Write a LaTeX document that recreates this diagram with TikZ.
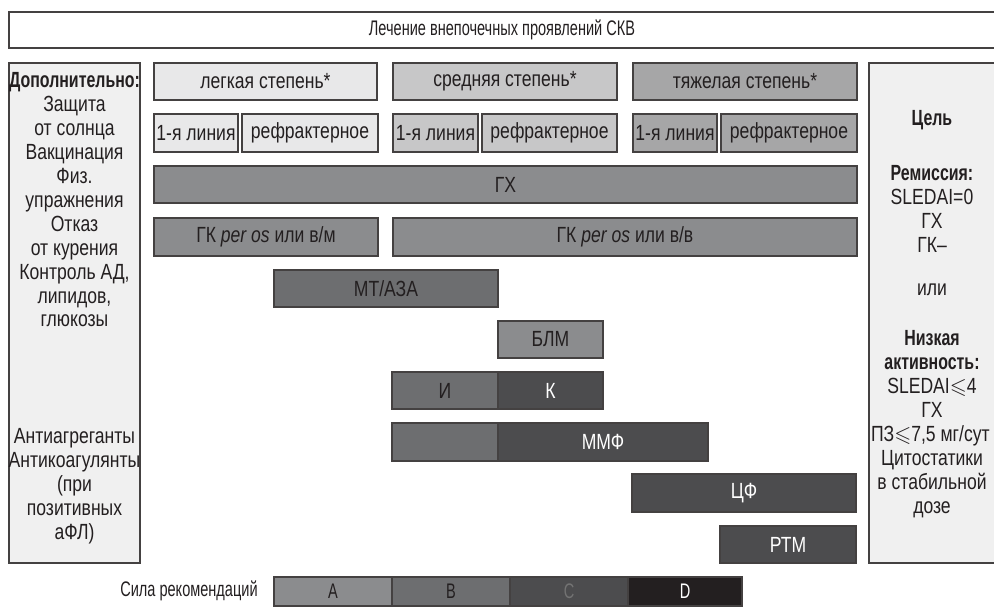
\documentclass[tikz,border=0pt]{standalone}
\usepackage{fontspec}
\setmainfont[FakeStretch=0.8, BoldFeatures={FakeStretch=0.725}]{Liberation Sans}
\newfontfamily\narrowfont[FakeStretch=0.69]{Liberation Sans}
\usepackage{amssymb}
\usetikzlibrary{fit, positioning}

\definecolor{sideC}{HTML}{F0F0F0}
\definecolor{sevL}{HTML}{E8E8E9}
\definecolor{sevM}{HTML}{C7C7C8}
\definecolor{sevH}{HTML}{A6A6A7}
\definecolor{lvA}{HTML}{8B8C8E}
\definecolor{lvB}{HTML}{6D6E70}
\definecolor{lvC}{HTML}{4C4C4E}
\definecolor{lvD}{HTML}{231F20}
\definecolor{ink}{HTML}{231F20}

\begin{document}
\begin{tikzpicture}[x=0.02cm, y=-0.02cm,
    every node/.style={font=\fontsize{12.5}{13.6}\selectfont, text=ink},
    small/.style={font=\narrowfont\fontsize{12}{13}\selectfont},
    bx/.style={draw=ink!85, line width=0.6pt, inner sep=0pt},
    txt/.style={align=center, inner sep=0pt}]
    \useasboundingbox (0,0) rectangle (994,610);

    % заголовок
    \node[bx, fit={(9,12) (995,48)}, label={[small]center:Лечение внепочечных проявлений СКВ}] (title) {};

    % боковые колонки
    \node[bx, fill=sideC, fit={(9,63) (140,563)}] (extra) {};
    \node[bx, fill=sideC, fit={(869,63) (995,563)}] (goal) {};
    \node[txt] (extratop) at (74.5,200) {\textbf{Дополнительно:}\\Защита\\от солнца\\Вакцинация\\Физ.\\упражнения\\Отказ\\от курения\\Контроль АД,\\липидов,\\глюкозы};
    \node[txt] (extrabot) at (74.5,486) {Антиагреганты\\Антикоагулянты\\(при\\позитивных\\аФЛ)};
    \node[txt] (goalhead) at (932,120) {\textbf{Цель}};
    \node[txt] (remis) at (932,209) {\textbf{Ремиссия:}\\SLEDAI=0\\ГХ\\ГК--};
    \node[txt] (ili) at (932,290) {или};
    \node[txt] (lowact) at (932,424) {\textbf{Низкая}\\\textbf{активность:}\\SLEDAI$\leqslant$4\\ГХ\\\makebox[2.44cm][l]{ПЗ$\leqslant$7,5 мг/сут}\\Цитостатики\\в стабильной\\дозе};

    % степени тяжести
    \node[bx, fill=sevL, fit={(154,63) (377,100)}, label=center:легкая степень*] (light) {};
    \node[bx, fill=sevM, fit={(393,63) (617,100)}, label=center:средняя степень*] (medium) {};
    \node[bx, fill=sevH, fit={(633,63) (857,100)}, label=center:тяжелая степень*] (heavy) {};
    \node[bx, fill=sevL, fit={(154,114) (238,152)}, label=center:1-я линия] (lightfirst) {};
    \node[bx, fill=sevL, fit={(242,114) (378,152)}, label=center:рефрактерное] (lightrefr) {};
    \node[bx, fill=sevM, fit={(393,114) (478,152)}, label=center:1-я линия] (medfirst) {};
    \node[bx, fill=sevM, fit={(482,114) (617,152)}, label=center:рефрактерное] (medrefr) {};
    \node[bx, fill=sevH, fit={(633,114) (717,152)}, label=center:1-я линия] (heavyfirst) {};
    \node[bx, fill=sevH, fit={(721,114) (857,152)}, label=center:рефрактерное] (heavyrefr) {};

    % препараты
    \node[bx, fill=lvA, fit={(154,166) (857,203)}, label=center:ГХ] (gx) {};
    \node[bx, fill=lvA, fit={(154,218) (378,256)}, label={center:ГК \textit{per os} или в/м}] (gkim) {};
    \node[bx, fill=lvA, fit={(393,218) (857,256)}, label={center:ГК \textit{per os} или в/в}] (gkiv) {};
    \node[bx, fill=lvB, fit={(274,270) (498,307)}, label=center:МТ/АЗА] (mtaza) {};
    \node[bx, fill=lvA, fit={(498,321) (603,358)}, label=center:БЛМ] (blm) {};
    \node[bx, fill=lvB, fit={(392,372) (498,409)}, label=center:И] (ik) {};
    \node[bx, fill=lvC, fit={(498,372) (603,409)}, label={[text=white]center:К}] (kk) {};
    \node[bx, fill=lvB, fit={(392,423) (498,461)}] (mmfB) {};
    \node[bx, fill=lvC, fit={(498,423) (708,461)}, label={[text=white]center:ММФ}] (mmf) {};
    \node[bx, fill=lvC, fit={(632,474) (856,512)}, label={[text=white]center:ЦФ}] (cf) {};
    \node[bx, fill=lvC, fit={(720,526) (856,563)}, label={[text=white]center:РТМ}] (rtm) {};

    % сила рекомендаций
    \node[txt, small, anchor=east] (force) at (258,591) {Сила рекомендаций};
    \node[bx, fill=lvA, fit={(274,577) (392,606)}, label={[small]center:A}] (levA) {};
    \node[bx, fill=lvB, fit={(392,577) (510,606)}, label={[small]center:B}] (levB) {};
    \node[bx, fill=lvC, fit={(510,577) (628,606)}, label={[small, text=black!55]center:C}] (levC) {};
    \node[bx, fill=lvD, fit={(628,577) (742,606)}, label={[small, text=white]center:D}] (levD) {};
\end{tikzpicture}
\end{document}
